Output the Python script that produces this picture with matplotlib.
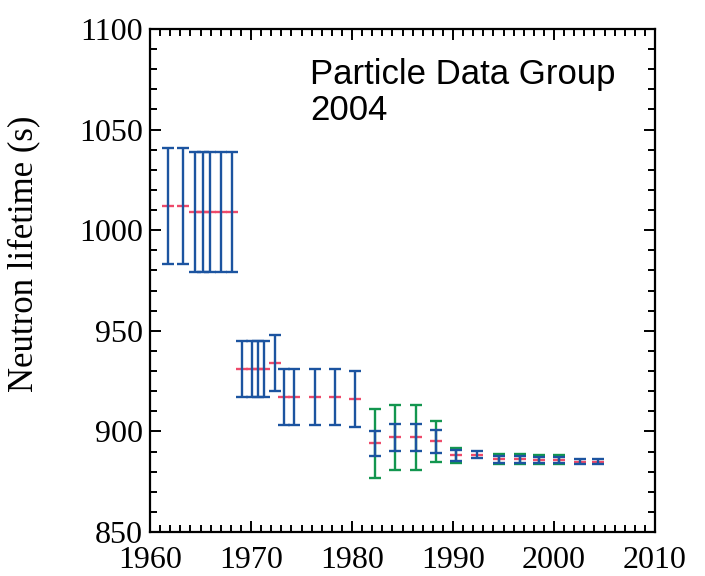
import numpy as np
import matplotlib.pyplot as plt
from matplotlib.ticker import MultipleLocator

# neutron lifetime averages (s) by year, blue = total error, green = wider error band
years = [1961.8, 1963.3, 1964.5, 1965.2, 1965.9, 1967.0, 1968.1,
         1969.1, 1970.1, 1970.7, 1971.3, 1972.4, 1973.3, 1974.3, 1976.3, 1978.3, 1980.3,
         1982.3, 1984.3, 1986.3, 1988.3, 1990.3, 1992.4, 1994.6, 1996.6, 1998.5, 2000.5,
         2002.6, 2004.4]
lifetime = [1012, 1012, 1009, 1009, 1009, 1009, 1009,
            931, 931, 931, 931, 934, 917, 917, 917, 917, 916,
            894, 897, 897, 895, 888.1, 888.5, 886.1, 886.1, 885.9, 885.9,
            884.9, 884.9]
err_blue = [29, 29, 30, 30, 30, 30, 30,
            14, 14, 14, 14, 14, 14, 14, 14, 14, 14,
            6.4, 6.6, 6.6, 5.6, 2.7, 1.9, 1.6, 1.6, 1.4, 1.4,
            1.2, 1.2]
err_green = [np.nan] * 17 + [17, 16, 16, 10, 3.7, np.nan, 2.5, 2.5, 2.2, 2.2, np.nan, np.nan]

BLUE = '#1c54a0'
GREEN = '#13964f'
RED = '#ee4a6a'

plt.rcParams['font.family'] = 'Liberation Serif'

fig = plt.figure(figsize=(7.05, 5.76), dpi=100)
ax = fig.add_axes([0.2128, 0.0764, 0.7163, 0.8733])

x = np.array(years)
y = np.array(lifetime)
eg = np.array(err_green)
m = ~np.isnan(eg)

# central values underneath the bars
ax.plot(x, y, ls='none', marker='_', ms=8.5, mew=1.7, color=RED, zorder=2)
ax.errorbar(x[m], y[m], yerr=eg[m], fmt='none', ecolor=GREEN, elinewidth=1.7,
            capsize=4.4, capthick=1.7, zorder=3)
ax.errorbar(x, y, yerr=err_blue, fmt='none', ecolor=BLUE, elinewidth=1.7,
            capsize=4.4, capthick=1.7, zorder=4)

ax.set_xlim(1960, 2010)
ax.set_ylim(850, 1100)
ax.xaxis.set_major_locator(MultipleLocator(10))
ax.xaxis.set_minor_locator(MultipleLocator(1))
ax.yaxis.set_major_locator(MultipleLocator(50))
ax.yaxis.set_minor_locator(MultipleLocator(10))
ax.tick_params(which='both', direction='in', top=True, right=True, width=1.4, labelsize=23)
ax.tick_params(which='major', length=8)
ax.tick_params(which='minor', length=5)
ax.tick_params(axis='y', pad=5)
ax.tick_params(axis='x', pad=10)
for s in ax.spines.values():
    s.set_linewidth(1.6)

ax.set_ylabel('Neutron lifetime (s)', fontsize=25)
ax.yaxis.set_label_coords(-0.218, 0.553)

ax.text(310 / 705, 1 - 120 / 576, 'Particle Data Group\n2004', transform=fig.transFigure,
        fontsize=25, family='Liberation Sans', va='baseline', ha='left', linespacing=1.1)

fig.savefig('out.png', dpi=100)
